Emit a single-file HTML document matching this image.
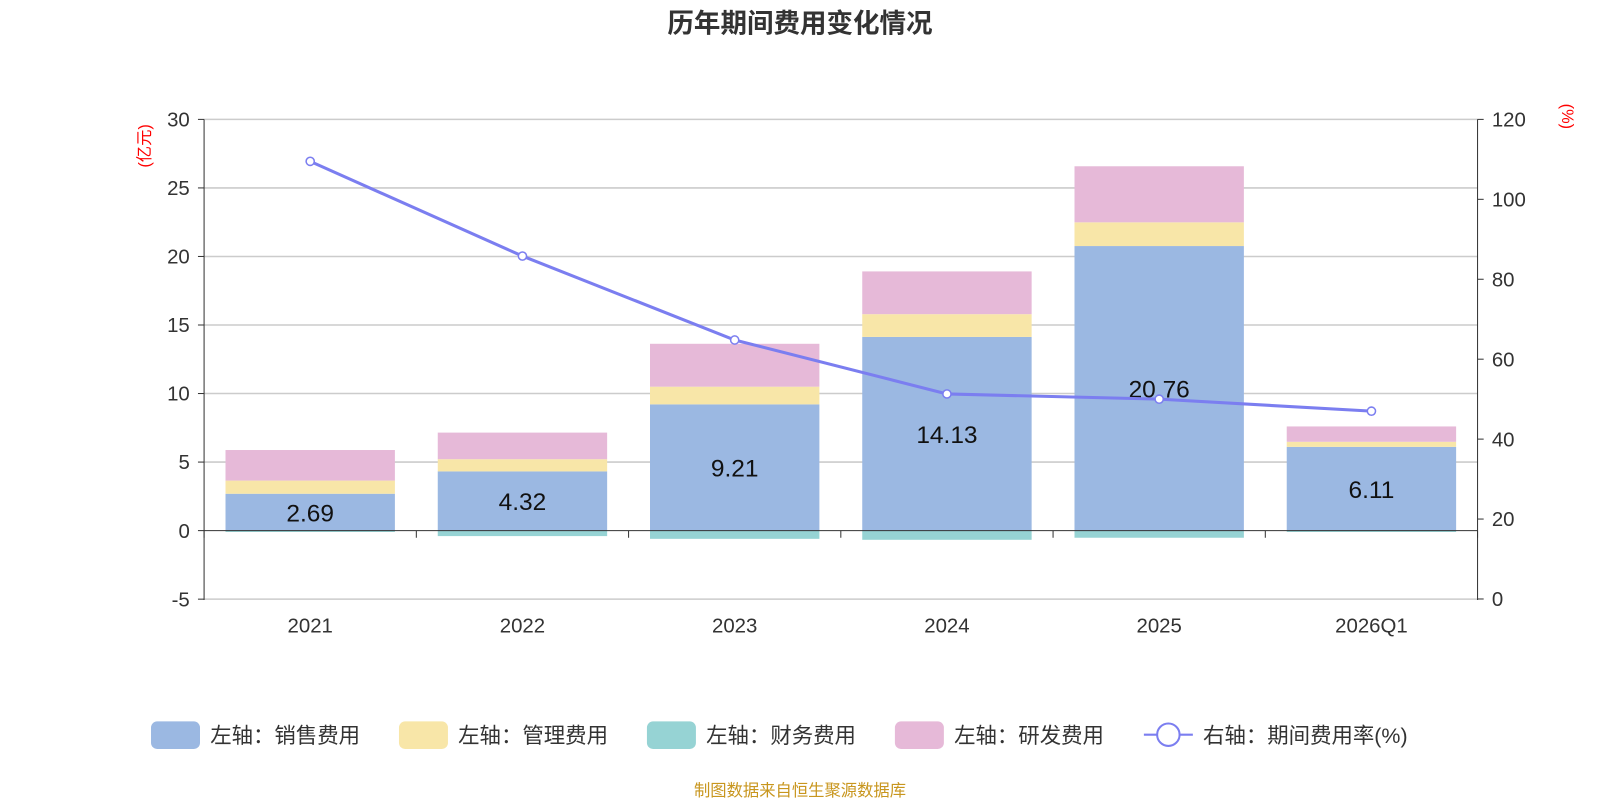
<!DOCTYPE html>
<html><head><meta charset="utf-8"><style>
body{margin:0;background:#fff;width:1600px;height:800px;overflow:hidden;font-family:"Liberation Sans","Noto Sans CJK SC",sans-serif}
</style></head><body>
<svg id="c" width="1600" height="800" viewBox="0 0 1568 784" xmlns="http://www.w3.org/2000/svg" font-family="Liberation Sans, Noto Sans CJK SC, sans-serif"></svg>
<script>
const categories=["2021","2022","2023","2024","2025","2026Q1"];
const sales=[2.69,4.32,9.21,14.13,20.76,6.11];
const admin=[0.96,0.89,1.29,1.66,1.73,0.37];
const finance=[-0.1,-0.4,-0.6,-0.67,-0.52,-0.1];
const rnd=[2.23,1.94,3.13,3.12,4.09,1.12];
const rate=[109.5,85.8,64.8,51.3,50.0,47.0];
const leftTicks=[-5,0,5,10,15,20,25,30];
const rightTicks=[0,20,40,60,80,100,120];
const NS="http://www.w3.org/2000/svg",svg=document.getElementById('c');
function el(t,a,txt){const e=document.createElementNS(NS,t);for(const k in a)e.setAttribute(k,a[k]);if(txt!=null)e.textContent=txt;svg.appendChild(e);return e;}
const x0=200,x1=1448;
const yL=v=>520-v*(403/30);
const yR=v=>587-v*(470/120);
const band=(x1-x0)/categories.length;
const xc=i=>x0+band*(i+0.5);
const bw=166;
let t=el('text',{x:784,y:32,'font-size':26,'font-weight':'bold','text-anchor':'middle',fill:'#333'},'历年期间费用变化情况');

leftTicks.forEach(v=>{if(v!==0){const g=el('line',{x1:x0,x2:x1,y1:yL(v),y2:yL(v),stroke:'#ccc','stroke-width':1.5});}
 const l=el('text',{x:186,y:yL(v)+7,'font-size':20,'text-anchor':'end',fill:'#333'},v);
 el('line',{x1:194,x2:x0,y1:yL(v),y2:yL(v),stroke:'#333'});});
rightTicks.forEach(v=>{const l=el('text',{x:1462,y:yR(v)+7,'font-size':20,fill:'#333'},v);
 el('line',{x1:x1,x2:x1+6,y1:yR(v),y2:yR(v),stroke:'#333'});});
el('line',{x1:x0,x2:x0,y1:117,y2:588,stroke:'#333'});
el('line',{x1:x1,x2:x1,y1:117,y2:588,stroke:'#333'});
let a=el('text',{transform:'translate(147,143) rotate(-90)','font-size':16,fill:'red','text-anchor':'middle'},'(亿元)');
a=el('text',{transform:'translate(1531,114) rotate(90)','font-size':16,fill:'red','text-anchor':'middle'},'(%)');
categories.forEach((c,i)=>{
 const x=xc(i)-bw/2;
 let b=el('rect',{x:x,y:yL(0),width:bw,height:yL(finance[i])-yL(0),fill:'#96d3d4'});
 b=el('rect',{x:x,y:yL(sales[i]),width:bw,height:yL(0)-yL(sales[i]),fill:'#9bb8e2'});
 const s2=sales[i]+admin[i];
 b=el('rect',{x:x,y:yL(s2),width:bw,height:yL(sales[i])-yL(s2),fill:'#f8e6a8'});
 const s3=s2+rnd[i];
 b=el('rect',{x:x,y:yL(s3),width:bw,height:yL(s2)-yL(s3),fill:'#e6b9d8'});
 const l=el('text',{x:xc(i),y:(yL(sales[i])+yL(0))/2+9,'font-size':24,'text-anchor':'middle',fill:'#111'},sales[i].toFixed(2));
 const xl=el('text',{x:xc(i),y:620,'font-size':20,'text-anchor':'middle',fill:'#333'},c);
});
el('line',{x1:x0,x2:x1,y1:yL(0),y2:yL(0),stroke:'#333'});
for(let i=0;i<=categories.length;i++)el('line',{x1:x0+band*i,x2:x0+band*i,y1:yL(0),y2:yL(0)+7,stroke:'#333'});
const ln=el('polyline',{points:rate.map((v,i)=>xc(i)+','+yR(v)).join(' '),fill:'none',stroke:'#7b7ef0','stroke-width':3});

rate.forEach((v,i)=>{const p=el('circle',{cx:xc(i),cy:yR(v),r:4,fill:'#fff',stroke:'#7b7ef0','stroke-width':1.5});});
const leg=[['左轴：销售费用','#9bb8e2',148],['左轴：管理费用','#f8e6a8',391],['左轴：财务费用','#96d3d4',634],['左轴：研发费用','#e6b9d8',877]];
leg.forEach(([n,c,x])=>{const r=el('rect',{x:x,y:707,width:48,height:27,rx:6,fill:c});
 const tx=el('text',{x:x+58,y:728,'font-size':21,fill:'#333'},n);});
el('line',{x1:1121,x2:1169,y1:720,y2:720,stroke:'#7b7ef0','stroke-width':2});
el('circle',{cx:1145,cy:720,r:11,fill:'#fff',stroke:'#7b7ef0','stroke-width':2});
t=el('text',{x:1179,y:728,'font-size':21,fill:'#333'},'右轴：期间费用率(%)');
t=el('text',{x:784,y:780,'font-size':16,'text-anchor':'middle',fill:'#c8961e'},'制图数据来自恒生聚源数据库');
</script>
</body></html>
